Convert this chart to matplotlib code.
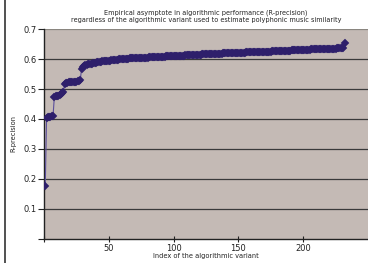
import numpy as np
import matplotlib
matplotlib.use("Agg")
import matplotlib.pyplot as plt
from matplotlib.lines import Line2D

# R-precision of each algorithmic variant, sorted ascending
r_precision = [
    0.178,
    0.404, 0.406, 0.407, 0.408, 0.409, 0.410,
    0.474, 0.476, 0.477, 0.478, 0.480, 0.483, 0.487, 0.491,
    0.518, 0.520, 0.521, 0.522, 0.522, 0.523, 0.523, 0.524, 0.524, 0.525,
    0.526, 0.527, 0.529,
    0.568, 0.572, 0.576, 0.579, 0.581, 0.582, 0.583, 0.584, 0.585, 0.586,
    0.587, 0.588,
    0.589, 0.590, 0.590, 0.591, 0.592, 0.592, 0.593, 0.594, 0.594, 0.595,
    0.595, 0.596, 0.596, 0.597, 0.597, 0.598, 0.598, 0.599, 0.599, 0.600,
    0.600, 0.600, 0.601, 0.601, 0.601, 0.602, 0.602, 0.602, 0.602, 0.603,
    0.603, 0.603, 0.604, 0.604, 0.604, 0.604, 0.605, 0.605, 0.605, 0.605,
    0.606, 0.606, 0.606, 0.606, 0.607, 0.607, 0.607, 0.607, 0.607, 0.608,
    0.608, 0.608, 0.608, 0.609, 0.609, 0.609, 0.609, 0.609, 0.610, 0.610,
    0.610, 0.610, 0.610, 0.611, 0.611, 0.611, 0.611, 0.611, 0.612, 0.612,
    0.613, 0.613, 0.613, 0.614, 0.614, 0.614, 0.614, 0.615, 0.615, 0.615,
    0.615, 0.616, 0.616, 0.616, 0.616, 0.616, 0.617, 0.617, 0.617, 0.617,
    0.617, 0.618, 0.618, 0.618, 0.618, 0.618, 0.618, 0.619, 0.619, 0.619,
    0.619, 0.619, 0.619, 0.620, 0.620, 0.620, 0.620, 0.620, 0.620, 0.620,
    0.621, 0.621, 0.621, 0.621, 0.621, 0.622, 0.622, 0.622, 0.622, 0.622,
    0.623, 0.623, 0.623, 0.623, 0.623, 0.624, 0.624, 0.624, 0.624, 0.624,
    0.625, 0.625, 0.625, 0.625, 0.625, 0.626, 0.626, 0.626, 0.626, 0.626,
    0.627, 0.627, 0.627, 0.627, 0.627, 0.628, 0.628, 0.628, 0.628, 0.628,
    0.629, 0.629, 0.629, 0.629, 0.629, 0.630, 0.630, 0.630, 0.630, 0.630,
    0.631, 0.631, 0.631, 0.631, 0.631, 0.632, 0.632, 0.632, 0.632, 0.632,
    0.633, 0.633, 0.633, 0.633, 0.633, 0.634, 0.634, 0.634, 0.634, 0.634,
    0.635, 0.635, 0.635, 0.635, 0.635, 0.636, 0.636, 0.636, 0.636, 0.637,
    0.637,
    0.653,
]
variant_index = np.arange(1, len(r_precision) + 1)

x_ticks = [0, 50, 100, 150, 200]
x_tick_labels = ["", "50", "100", "150", "200"]
y_ticks = [0.0, 0.1, 0.2, 0.3, 0.4, 0.5, 0.6, 0.7]
y_tick_labels = ["", "0.1", "0.2", "0.3", "0.4", "0.5", "0.6", "0.7"]

title = ("Empirical asymptote in algorithmic performance (R-precision)\n"
         "regardless of the algorithmic variant used to estimate polyphonic music similarity")

fig = plt.figure(figsize=(3.68, 2.63), dpi=100)
ax = fig.add_axes([0.1195, 0.0913, 0.8805, 0.7984])
ax.set_facecolor("#c4bab5")

ax.plot(variant_index, r_precision, color="#5b4f9c", linewidth=0.8,
        marker="D", markersize=3.6, markerfacecolor="#2e1f6b",
        markeredgecolor="#2e1f6b", markeredgewidth=0.3, zorder=3)

ax.set_xlim(0, 250)
ax.set_ylim(0, 0.7)
ax.set_xticks(x_ticks)
ax.set_xticklabels(x_tick_labels)
ax.set_yticks(y_ticks)
ax.set_yticklabels(y_tick_labels)

for y in y_ticks[1:-1]:
    ax.axhline(y, color="#3a3a3a", linewidth=0.9, zorder=1)

for side in ["top", "right"]:
    ax.spines[side].set_visible(False)
ax.axhline(0.7, color="#8a8680", linewidth=0.9, zorder=1)
ax.spines["left"].set_color("#222222")
ax.spines["bottom"].set_color("#222222")
ax.spines["left"].set_linewidth(1.0)
ax.spines["bottom"].set_linewidth(1.0)

ax.tick_params(axis="y", direction="out", length=4, width=0.8,
               labelsize=6, colors="#222222", pad=1)
ax.tick_params(axis="x", direction="inout", length=5, width=0.8,
               labelsize=6, colors="#222222", pad=1)

ax.set_title(title, fontsize=4.7, color="#222222", pad=5, linespacing=1.2)
ax.set_xlabel("Index of the algorithmic variant", fontsize=4.8,
              color="#222222", labelpad=0)
ax.set_ylabel("R-precision", fontsize=4.8, color="#222222", labelpad=5)

# chart frame line on the left
fig.add_artist(Line2D([4.5 / 368, 4.5 / 368], [0, 1], color="#333333",
                      linewidth=1.2, transform=fig.transFigure))

fig.savefig("out.png", dpi=100, facecolor="white")
